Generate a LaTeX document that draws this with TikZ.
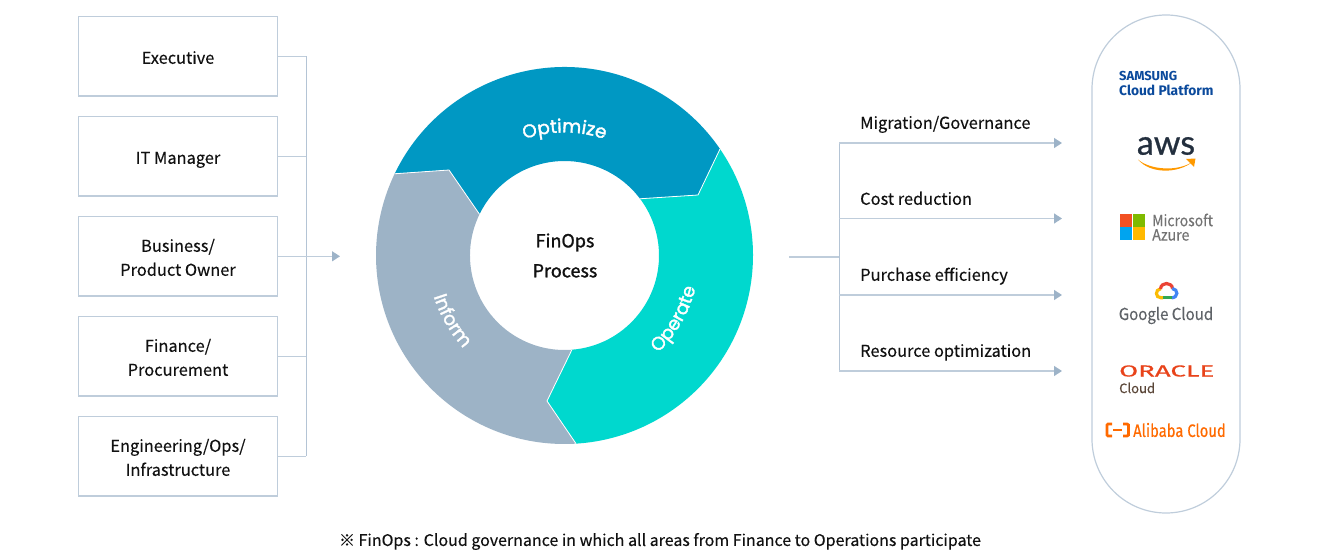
\documentclass[tikz,border=0pt]{standalone}
\usepackage{fontspec}
\usepackage{graphicx}
\setmainfont{Noto Sans CJK KR}[FakeBold=0.25]
\newfontfamily\centrefont{Noto Sans CJK KR}[FakeBold=1.3]
\newfontfamily\ringfont{Poppins}[FakeBold=1.8]
\newfontfamily\logofont{Lato}[FakeBold=0.8]
\newfontfamily\firafont{Fira Sans}
\newfontfamily\alifont{Fira Sans}[FakeBold=0.5]
\usetikzlibrary{arrows.meta,decorations.text}
\definecolor{linec}{HTML}{BFCDDB}
\definecolor{busc}{HTML}{B4C4D5}
\definecolor{tipc}{HTML}{9DB3C8}
\definecolor{optc}{HTML}{0098C3}
\definecolor{operc}{HTML}{00D8CE}
\definecolor{infc}{HTML}{9DB3C6}
\definecolor{txtc}{HTML}{111111}
\definecolor{awsor}{HTML}{FF9900}
\definecolor{alior}{HTML}{FF6A00}
\definecolor{msr}{HTML}{F25022}
\definecolor{msg}{HTML}{7FBA00}
\definecolor{msb}{HTML}{00A4EF}
\definecolor{msy}{HTML}{FFB900}
\definecolor{gy}{HTML}{FBBC04}
\definecolor{gr}{HTML}{EA4335}
\definecolor{gb}{HTML}{4285F4}
\definecolor{gg}{HTML}{34A853}
\newcommand\bstrut{\rule[-4.5pt]{0pt}{24pt}}
\tikzset{
  x=1pt,y=-1pt,
  rolebox/.style={draw=linec,line width=1.2pt,minimum width=199pt,minimum height=79.5pt,inner sep=0pt,align=center,text=txtc,font=\fontsize{16.4}{24}\selectfont},
  hbus/.style={draw=linec,line width=1.3pt},
  bus/.style={draw=busc,line width=1pt},
  arrowline/.style={draw=linec,line width=1.3pt,-{Triangle[length=8pt,width=10pt,color=tipc,fill=tipc]}},
  seg/.style={draw=white,line width=0.8pt},
  lab/.style={anchor=west,inner sep=0pt,text=txtc,font=\fontsize{16.4}{20}\selectfont},
  ringlab/.style={decorate,decoration={text along path,text align=center,text={|\ringfont\fontsize{18.5}{20}\selectfont\color{white}|#1}}},
  logo/.style={inner sep=0pt,anchor=west},
}
\begin{document}
\begin{tikzpicture}
\useasboundingbox (0,0) rectangle (1318,551);
% role boxes
\node[rolebox] (exec) at (178,56.3) {\bstrut Executive};
\node[rolebox] (itm) at (178,156.3) {\bstrut IT Manager};
\node[rolebox] (biz) at (178,256.3) {\bstrut Business/\\\bstrut Product Owner};
\node[rolebox] (fin) at (178,356.3) {\bstrut Finance/\\\bstrut Procurement};
\node[rolebox] (eng) at (178,456.3) {\bstrut Engineering/Ops/\\\bstrut Infrastructure};
% left bus
\coordinate (bt) at (306,56.3);
\coordinate (bb) at (306,456.3);
\coordinate (lend) at (340,256.3);
\draw[bus] (bt) -- (bb);
\draw[hbus] (exec.east) -- (bt);
\draw[hbus] (eng.east) -- (bb);
\draw[hbus] (itm.east) -- (itm.east -| bt);
\draw[hbus] (fin.east) -- (fin.east -| bt);
\draw[arrowline] (biz.east) -- (lend);
% ring
\begin{scope}[shift={(564.5,255.5)},x=1pt,y=1pt]
\fill[optc] (154.3:188.5) arc[start angle=154.3,end angle=34.4,radius=188.5] -- (133.5,60.5) -- (36.9:94.5) arc[start angle=36.9,end angle=154.1,radius=94.5] -- (-115.5,85.5) -- cycle;
\fill[operc] (34.4:188.5) arc[start angle=34.4,end angle=-86.5,radius=188.5] -- (-17.5,-145.5) -- (-85.5:94.5) arc[start angle=-85.5,end angle=36.9,radius=94.5] -- (133.5,60.5) -- cycle;
\fill[infc] (-86.5:188.5) arc[start angle=-86.5,end angle=-205.7,radius=188.5] -- (-115.5,85.5) -- (154.1:94.5) arc[start angle=154.1,end angle=274.5,radius=94.5] -- (-17.5,-145.5) -- cycle;
\draw[seg] (154.3:188.5) -- (-115.5,85.5) -- (154.1:94.5);
\draw[seg] (34.4:188.5) -- (133.5,60.5) -- (36.9:94.5);
\draw[seg] (-86.5:188.5) -- (-17.5,-145.5) -- (-85.5:94.5);
\path[ringlab=Optimize] (125:123) arc[start angle=125,end angle=55,radius=123];
\path[ringlab=Operate] (-65:135) arc[start angle=-65,end angle=5,radius=135];
\path[ringlab=Inform] (170:137) arc[start angle=170,end angle=250,radius=137];
\end{scope}
\node[inner sep=0pt,align=center,text=txtc,font=\centrefont\fontsize{18}{30}\selectfont] (centre) at (565,255.5) {FinOps\\Process};
% right bus
\coordinate (rs) at (789,257);
\coordinate (rj) at (839,257);
\coordinate (r1) at (839,143);
\coordinate (r4) at (839,371);
\coordinate (e1) at (1062,143);
\coordinate (e2) at (1062,218.5);
\coordinate (e3) at (1062,295);
\coordinate (e4) at (1062,371);
\draw[hbus] (rs) -- (rj);
\draw[bus] (r1) -- (r4);
\draw[arrowline] (r1) -- (e1);
\draw[arrowline] (e2 -| rj) -- (e2);
\draw[arrowline] (e3 -| rj) -- (e3);
\draw[arrowline] (r4) -- (e4);
\node[lab] (l1) at (860,121.3) {\bstrut Migration/Governance};
\node[lab] (l2) at (860,197.3) {\bstrut Cost reduction};
\node[lab] (l3) at (860,273.3) {\bstrut Purchase efficiency};
\node[lab] (l4) at (860,349.3) {\bstrut Resource optimization};
% pill
\draw[draw=linec,line width=1.2pt,rounded corners=74pt] (1092,15) rectangle (1240,513);
% Samsung
\node[logo,font=\firafont\bfseries\fontsize{13}{13}\selectfont] (sam1) at (1119,76) {\color[HTML]{0B4A9C}SAMSUNG};
\node[logo,font=\firafont\bfseries\fontsize{13.8}{13}\selectfont] (sam2) at (1119,90) {\color[HTML]{0B4A9C}Cloud Platform};
% AWS
\node[inner sep=0pt,font=\logofont\fontsize{34}{34}\selectfont] (aws) at (1166,146) {\color[HTML]{232F3E}aws};
\fill[awsor] (1138,159.5) .. controls (1150,170) and (1178,172) .. (1193,161.5) .. controls (1178,174) and (1150,174) .. cycle;
\fill[awsor] (1186,159) -- (1195.5,158.5) -- (1194,167) -- cycle;
% Azure
\fill[msr] (1119.7,214) rectangle (1132.3,226.8);
\fill[msg] (1132.8,214) rectangle (1145,226.8);
\fill[msb] (1119.7,227.4) rectangle (1132.3,240);
\fill[msy] (1132.8,227.4) rectangle (1145,240);
\node[logo,font=\fontsize{15.5}{16}\selectfont] (ms1) at (1152,220) {\color[HTML]{737373}\scalebox{0.9}[1]{Microsoft}};
\node[logo,font=\fontsize{15.5}{16}\selectfont] (ms2) at (1152,235) {\color[HTML]{737373}\scalebox{0.92}[1]{Azure}};
% Google
\begin{scope}[line width=3.2pt]
\draw[draw=gy] (1163,297.8) -- (1161,297.8) .. controls (1155,297.8) and (1155,289.5) .. (1160.5,288.8);
\draw[draw=gr] (1160.5,289) .. controls (1161,281.5) and (1172,282) .. (1172.5,288.5);
\draw[draw=gb] (1172.2,288.5) .. controls (1178.5,289) and (1178.5,297.8) .. (1171.5,297.8);
\draw[draw=gg] (1163,297.8) -- (1171.5,297.8);
\end{scope}
\node[inner sep=0pt,font=\fontsize{16.5}{17}\selectfont] (gc) at (1166,315.5) {\color[HTML]{5F6368}\scalebox{0.91}[1]{Google Cloud}};
% Oracle
\node[logo] (ora) at (1119,371) {\color[HTML]{E8431A}\scalebox{1.72}[1]{\alifont\fontsize{16}{16}\selectfont ORACLE}};
\node[logo,font=\fontsize{13}{13}\selectfont] (oc) at (1119,388) {\color[HTML]{5A4638}Cloud};
% Alibaba
\draw[draw=alior,line width=2.8pt] (1112,424) -- (1108,424) -- (1107,425) -- (1107,435) -- (1108,436) -- (1112,436);
\draw[draw=alior,line width=2.8pt] (1123,424) -- (1127,424) -- (1128.5,425) -- (1128.5,435) -- (1127,436) -- (1123,436);
\draw[draw=alior,line width=1.6pt] (1113,430) -- (1122,430);
\node[logo] (ali) at (1133,430) {\color{alior}\scalebox{0.82}[1]{\alifont\fontsize{18}{18}\selectfont Alibaba Cloud}};
% footnote
\node[inner sep=0pt,text=txtc,font=\fontsize{16}{18}\selectfont] (note) at (660,541.5) {※ FinOps : Cloud governance in which all areas from Finance to Operations participate};
\end{tikzpicture}
\end{document}
